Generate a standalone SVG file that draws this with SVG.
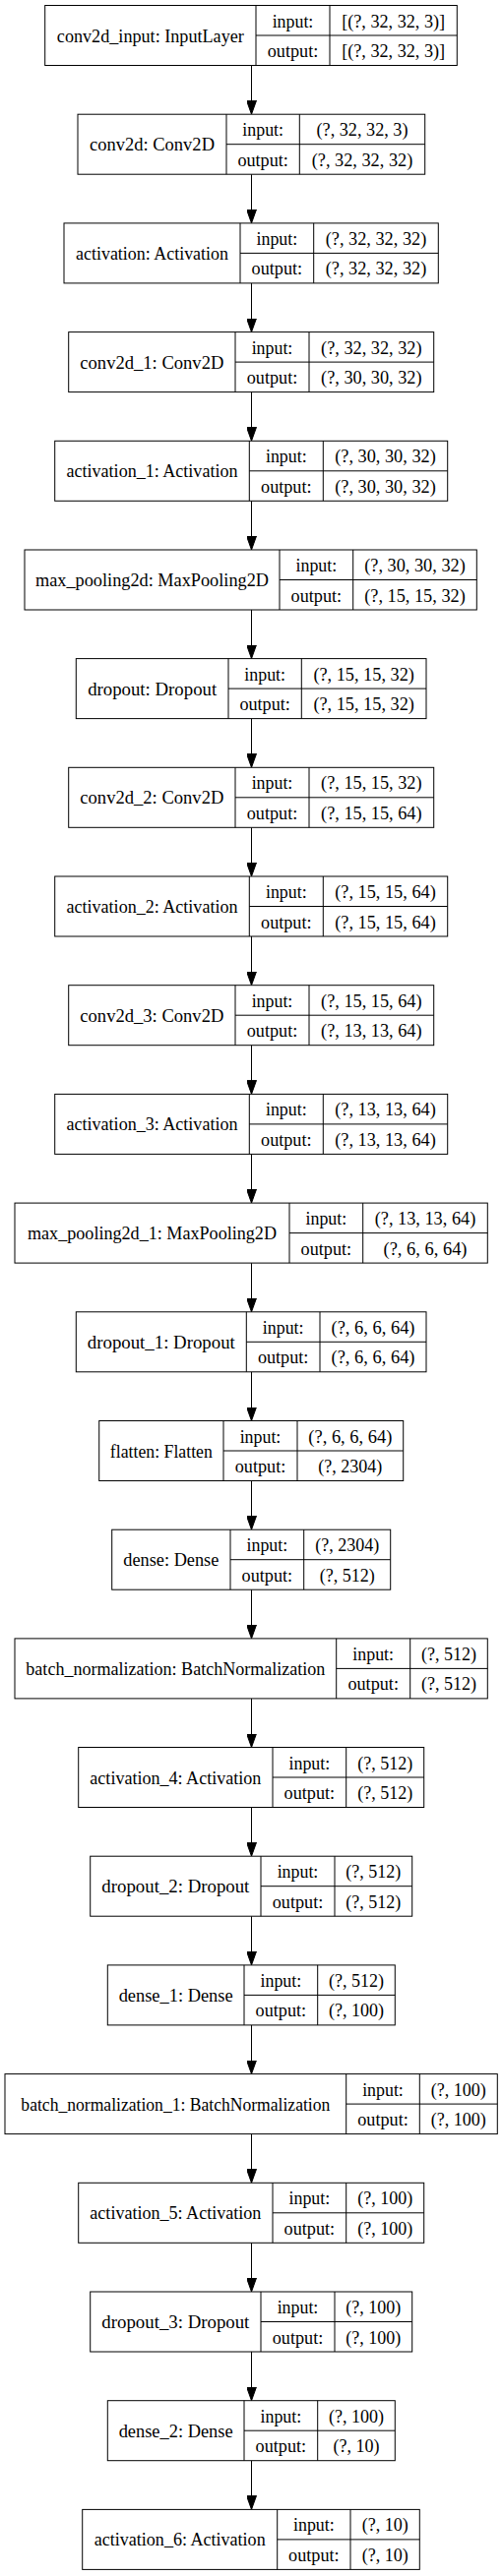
<svg xmlns="http://www.w3.org/2000/svg" width="511" height="2619" viewBox="0 0 511 2619">
<style>
rect.box{fill:#fff;stroke:#000;stroke-width:1}
path.div{fill:none;stroke:#000;stroke-width:1}
line.edge{stroke:#000;stroke-width:1;marker-end:url(#arr)}
</style>
<defs>
<marker id="arr" markerUnits="userSpaceOnUse" viewBox="0 0 14 10" markerWidth="14" markerHeight="10" refX="14" refY="5" orient="auto">
<path d="M0,0 L14,5 L0,10 z" fill="#000" stroke="#000" stroke-width="1"/>
</marker>
</defs>
<rect width="511" height="2619" fill="#fff"/>
<g id="connectors">
<line class="edge" x1="255.5" y1="66.5" x2="255.5" y2="116.2"/>
<line class="edge" x1="255.5" y1="177.2" x2="255.5" y2="226.9"/>
<line class="edge" x1="255.5" y1="287.9" x2="255.5" y2="337.6"/>
<line class="edge" x1="255.5" y1="398.6" x2="255.5" y2="448.3"/>
<line class="edge" x1="255.5" y1="509.3" x2="255.5" y2="559"/>
<line class="edge" x1="255.5" y1="620" x2="255.5" y2="669.6"/>
<line class="edge" x1="255.5" y1="730.6" x2="255.5" y2="780.3"/>
<line class="edge" x1="255.5" y1="841.3" x2="255.5" y2="891"/>
<line class="edge" x1="255.5" y1="952" x2="255.5" y2="1001.7"/>
<line class="edge" x1="255.5" y1="1062.7" x2="255.5" y2="1112.4"/>
<line class="edge" x1="255.5" y1="1173.4" x2="255.5" y2="1223.1"/>
<line class="edge" x1="255.5" y1="1284.1" x2="255.5" y2="1333.8"/>
<line class="edge" x1="255.5" y1="1394.8" x2="255.5" y2="1444.5"/>
<line class="edge" x1="255.5" y1="1505.5" x2="255.5" y2="1555.2"/>
<line class="edge" x1="255.5" y1="1616.2" x2="255.5" y2="1665.9"/>
<line class="edge" x1="255.5" y1="1726.9" x2="255.5" y2="1776.5"/>
<line class="edge" x1="255.5" y1="1837.5" x2="255.5" y2="1887.2"/>
<line class="edge" x1="255.5" y1="1948.2" x2="255.5" y2="1997.9"/>
<line class="edge" x1="255.5" y1="2058.9" x2="255.5" y2="2108.6"/>
<line class="edge" x1="255.5" y1="2169.6" x2="255.5" y2="2219.3"/>
<line class="edge" x1="255.5" y1="2280.3" x2="255.5" y2="2330"/>
<line class="edge" x1="255.5" y1="2391" x2="255.5" y2="2440.7"/>
<line class="edge" x1="255.5" y1="2501.7" x2="255.5" y2="2551.4"/>
</g>
<g id="nodes" font-family="'Liberation Serif', 'Times New Roman', serif" font-size="17.8" text-anchor="middle" fill="#000">
<g id="conv2d_input">
<rect class="box" x="45.7" y="5.5" width="418.6" height="61"/>
<path class="div" d="M260,5.5V66.5M335,5.5V66.5M260,36H464.3"/>
<text x="152.85" y="42.5" textLength="190" lengthAdjust="spacingAndGlyphs">conv2d_input: InputLayer</text>
<text x="297.5" y="27.5" textLength="41.7" lengthAdjust="spacingAndGlyphs">input:</text>
<text x="297.5" y="58" textLength="51.5" lengthAdjust="spacingAndGlyphs">output:</text>
<text x="399.65" y="27.5" textLength="105" lengthAdjust="spacingAndGlyphs">[(?, 32, 32, 3)]</text>
<text x="399.65" y="58" textLength="105" lengthAdjust="spacingAndGlyphs">[(?, 32, 32, 3)]</text>
</g>
<g id="conv2d">
<rect class="box" x="79" y="116.2" width="352.7" height="61"/>
<path class="div" d="M230,116.2V177.2M304.3,116.2V177.2M230,146.7H431.7"/>
<text x="154.5" y="153.2" textLength="127" lengthAdjust="spacingAndGlyphs">conv2d: Conv2D</text>
<text x="267.15" y="138.2" textLength="41.7" lengthAdjust="spacingAndGlyphs">input:</text>
<text x="267.15" y="168.7" textLength="51.5" lengthAdjust="spacingAndGlyphs">output:</text>
<text x="368" y="138.2" textLength="93" lengthAdjust="spacingAndGlyphs">(?, 32, 32, 3)</text>
<text x="368" y="168.7" textLength="102.5" lengthAdjust="spacingAndGlyphs">(?, 32, 32, 32)</text>
</g>
<g id="activation">
<rect class="box" x="65" y="226.9" width="380.3" height="61"/>
<path class="div" d="M244,226.9V287.9M318.7,226.9V287.9M244,257.4H445.3"/>
<text x="154.5" y="263.9" textLength="155" lengthAdjust="spacingAndGlyphs">activation: Activation</text>
<text x="281.35" y="248.9" textLength="41.7" lengthAdjust="spacingAndGlyphs">input:</text>
<text x="281.35" y="279.4" textLength="51.5" lengthAdjust="spacingAndGlyphs">output:</text>
<text x="382" y="248.9" textLength="102.5" lengthAdjust="spacingAndGlyphs">(?, 32, 32, 32)</text>
<text x="382" y="279.4" textLength="102.5" lengthAdjust="spacingAndGlyphs">(?, 32, 32, 32)</text>
</g>
<g id="conv2d_1">
<rect class="box" x="69.7" y="337.6" width="371" height="61"/>
<path class="div" d="M239,337.6V398.6M314,337.6V398.6M239,368.1H440.7"/>
<text x="154.35" y="374.6" textLength="146" lengthAdjust="spacingAndGlyphs">conv2d_1: Conv2D</text>
<text x="276.5" y="359.6" textLength="41.7" lengthAdjust="spacingAndGlyphs">input:</text>
<text x="276.5" y="390.1" textLength="51.5" lengthAdjust="spacingAndGlyphs">output:</text>
<text x="377.35" y="359.6" textLength="102.5" lengthAdjust="spacingAndGlyphs">(?, 32, 32, 32)</text>
<text x="377.35" y="390.1" textLength="102.5" lengthAdjust="spacingAndGlyphs">(?, 30, 30, 32)</text>
</g>
<g id="activation_1">
<rect class="box" x="55.7" y="448.3" width="399" height="61"/>
<path class="div" d="M253.3,448.3V509.3M328.3,448.3V509.3M253.3,478.8H454.7"/>
<text x="154.5" y="485.3" textLength="174" lengthAdjust="spacingAndGlyphs">activation_1: Activation</text>
<text x="290.8" y="470.3" textLength="41.7" lengthAdjust="spacingAndGlyphs">input:</text>
<text x="290.8" y="500.8" textLength="51.5" lengthAdjust="spacingAndGlyphs">output:</text>
<text x="391.5" y="470.3" textLength="102.5" lengthAdjust="spacingAndGlyphs">(?, 30, 30, 32)</text>
<text x="391.5" y="500.8" textLength="102.5" lengthAdjust="spacingAndGlyphs">(?, 30, 30, 32)</text>
</g>
<g id="max_pooling2d">
<rect class="box" x="25" y="559" width="459.3" height="61"/>
<path class="div" d="M284,559V620M358.7,559V620M284,589.5H484.3"/>
<text x="154.5" y="596" textLength="237" lengthAdjust="spacingAndGlyphs">max_pooling2d: MaxPooling2D</text>
<text x="321.35" y="581" textLength="41.7" lengthAdjust="spacingAndGlyphs">input:</text>
<text x="321.35" y="611.5" textLength="51.5" lengthAdjust="spacingAndGlyphs">output:</text>
<text x="421.5" y="581" textLength="102.5" lengthAdjust="spacingAndGlyphs">(?, 30, 30, 32)</text>
<text x="421.5" y="611.5" textLength="102.5" lengthAdjust="spacingAndGlyphs">(?, 15, 15, 32)</text>
</g>
<g id="dropout">
<rect class="box" x="77.3" y="669.6" width="355.7" height="61"/>
<path class="div" d="M232,669.6V730.6M306.3,669.6V730.6M232,700.1H433"/>
<text x="154.65" y="706.6" textLength="131" lengthAdjust="spacingAndGlyphs">dropout: Dropout</text>
<text x="269.15" y="691.6" textLength="41.7" lengthAdjust="spacingAndGlyphs">input:</text>
<text x="269.15" y="722.1" textLength="51.5" lengthAdjust="spacingAndGlyphs">output:</text>
<text x="369.65" y="691.6" textLength="102.5" lengthAdjust="spacingAndGlyphs">(?, 15, 15, 32)</text>
<text x="369.65" y="722.1" textLength="102.5" lengthAdjust="spacingAndGlyphs">(?, 15, 15, 32)</text>
</g>
<g id="conv2d_2">
<rect class="box" x="69.7" y="780.3" width="371" height="61"/>
<path class="div" d="M239,780.3V841.3M314,780.3V841.3M239,810.8H440.7"/>
<text x="154.35" y="817.3" textLength="146" lengthAdjust="spacingAndGlyphs">conv2d_2: Conv2D</text>
<text x="276.5" y="802.3" textLength="41.7" lengthAdjust="spacingAndGlyphs">input:</text>
<text x="276.5" y="832.8" textLength="51.5" lengthAdjust="spacingAndGlyphs">output:</text>
<text x="377.35" y="802.3" textLength="102.5" lengthAdjust="spacingAndGlyphs">(?, 15, 15, 32)</text>
<text x="377.35" y="832.8" textLength="102.5" lengthAdjust="spacingAndGlyphs">(?, 15, 15, 64)</text>
</g>
<g id="activation_2">
<rect class="box" x="55.7" y="891" width="399" height="61"/>
<path class="div" d="M253.3,891V952M328.3,891V952M253.3,921.5H454.7"/>
<text x="154.5" y="928" textLength="174" lengthAdjust="spacingAndGlyphs">activation_2: Activation</text>
<text x="290.8" y="913" textLength="41.7" lengthAdjust="spacingAndGlyphs">input:</text>
<text x="290.8" y="943.5" textLength="51.5" lengthAdjust="spacingAndGlyphs">output:</text>
<text x="391.5" y="913" textLength="102.5" lengthAdjust="spacingAndGlyphs">(?, 15, 15, 64)</text>
<text x="391.5" y="943.5" textLength="102.5" lengthAdjust="spacingAndGlyphs">(?, 15, 15, 64)</text>
</g>
<g id="conv2d_3">
<rect class="box" x="69.7" y="1001.7" width="371" height="61"/>
<path class="div" d="M239,1001.7V1062.7M314,1001.7V1062.7M239,1032.2H440.7"/>
<text x="154.35" y="1038.7" textLength="146" lengthAdjust="spacingAndGlyphs">conv2d_3: Conv2D</text>
<text x="276.5" y="1023.7" textLength="41.7" lengthAdjust="spacingAndGlyphs">input:</text>
<text x="276.5" y="1054.2" textLength="51.5" lengthAdjust="spacingAndGlyphs">output:</text>
<text x="377.35" y="1023.7" textLength="102.5" lengthAdjust="spacingAndGlyphs">(?, 15, 15, 64)</text>
<text x="377.35" y="1054.2" textLength="102.5" lengthAdjust="spacingAndGlyphs">(?, 13, 13, 64)</text>
</g>
<g id="activation_3">
<rect class="box" x="55.7" y="1112.4" width="399" height="61"/>
<path class="div" d="M253.3,1112.4V1173.4M328.3,1112.4V1173.4M253.3,1142.9H454.7"/>
<text x="154.5" y="1149.4" textLength="174" lengthAdjust="spacingAndGlyphs">activation_3: Activation</text>
<text x="290.8" y="1134.4" textLength="41.7" lengthAdjust="spacingAndGlyphs">input:</text>
<text x="290.8" y="1164.9" textLength="51.5" lengthAdjust="spacingAndGlyphs">output:</text>
<text x="391.5" y="1134.4" textLength="102.5" lengthAdjust="spacingAndGlyphs">(?, 13, 13, 64)</text>
<text x="391.5" y="1164.9" textLength="102.5" lengthAdjust="spacingAndGlyphs">(?, 13, 13, 64)</text>
</g>
<g id="max_pooling2d_1">
<rect class="box" x="15" y="1223.1" width="480.3" height="61"/>
<path class="div" d="M294,1223.1V1284.1M368.7,1223.1V1284.1M294,1253.6H495.3"/>
<text x="154.5" y="1260.1" textLength="253" lengthAdjust="spacingAndGlyphs">max_pooling2d_1: MaxPooling2D</text>
<text x="331.35" y="1245.1" textLength="41.7" lengthAdjust="spacingAndGlyphs">input:</text>
<text x="331.35" y="1275.6" textLength="51.5" lengthAdjust="spacingAndGlyphs">output:</text>
<text x="432" y="1245.1" textLength="102.5" lengthAdjust="spacingAndGlyphs">(?, 13, 13, 64)</text>
<text x="432" y="1275.6" textLength="85" lengthAdjust="spacingAndGlyphs">(?, 6, 6, 64)</text>
</g>
<g id="dropout_1">
<rect class="box" x="77.3" y="1333.8" width="355.7" height="61"/>
<path class="div" d="M250.3,1333.8V1394.8M325,1333.8V1394.8M250.3,1364.3H433"/>
<text x="163.8" y="1370.8" textLength="150" lengthAdjust="spacingAndGlyphs">dropout_1: Dropout</text>
<text x="287.65" y="1355.8" textLength="41.7" lengthAdjust="spacingAndGlyphs">input:</text>
<text x="287.65" y="1386.3" textLength="51.5" lengthAdjust="spacingAndGlyphs">output:</text>
<text x="379" y="1355.8" textLength="85" lengthAdjust="spacingAndGlyphs">(?, 6, 6, 64)</text>
<text x="379" y="1386.3" textLength="85" lengthAdjust="spacingAndGlyphs">(?, 6, 6, 64)</text>
</g>
<g id="flatten">
<rect class="box" x="100.7" y="1444.5" width="309" height="61"/>
<path class="div" d="M227,1444.5V1505.5M302,1444.5V1505.5M227,1475H409.7"/>
<text x="163.85" y="1481.5" textLength="104" lengthAdjust="spacingAndGlyphs">flatten: Flatten</text>
<text x="264.5" y="1466.5" textLength="41.7" lengthAdjust="spacingAndGlyphs">input:</text>
<text x="264.5" y="1497" textLength="51.5" lengthAdjust="spacingAndGlyphs">output:</text>
<text x="355.85" y="1466.5" textLength="85" lengthAdjust="spacingAndGlyphs">(?, 6, 6, 64)</text>
<text x="355.85" y="1497" textLength="65" lengthAdjust="spacingAndGlyphs">(?, 2304)</text>
</g>
<g id="dense">
<rect class="box" x="113.7" y="1555.2" width="283" height="61"/>
<path class="div" d="M234,1555.2V1616.2M308.7,1555.2V1616.2M234,1585.7H396.7"/>
<text x="173.85" y="1592.2" textLength="97" lengthAdjust="spacingAndGlyphs">dense: Dense</text>
<text x="271.35" y="1577.2" textLength="41.7" lengthAdjust="spacingAndGlyphs">input:</text>
<text x="271.35" y="1607.7" textLength="51.5" lengthAdjust="spacingAndGlyphs">output:</text>
<text x="352.7" y="1577.2" textLength="65" lengthAdjust="spacingAndGlyphs">(?, 2304)</text>
<text x="352.7" y="1607.7" textLength="56" lengthAdjust="spacingAndGlyphs">(?, 512)</text>
</g>
<g id="batch_normalization">
<rect class="box" x="15" y="1665.9" width="480.3" height="61"/>
<path class="div" d="M341.7,1665.9V1726.9M416.7,1665.9V1726.9M341.7,1696.4H495.3"/>
<text x="178.35" y="1702.9" textLength="304" lengthAdjust="spacingAndGlyphs">batch_normalization: BatchNormalization</text>
<text x="379.2" y="1687.9" textLength="41.7" lengthAdjust="spacingAndGlyphs">input:</text>
<text x="379.2" y="1718.4" textLength="51.5" lengthAdjust="spacingAndGlyphs">output:</text>
<text x="456" y="1687.9" textLength="56" lengthAdjust="spacingAndGlyphs">(?, 512)</text>
<text x="456" y="1718.4" textLength="56" lengthAdjust="spacingAndGlyphs">(?, 512)</text>
</g>
<g id="activation_4">
<rect class="box" x="79.7" y="1776.5" width="351" height="61"/>
<path class="div" d="M277,1776.5V1837.5M351.7,1776.5V1837.5M277,1807H430.7"/>
<text x="178.35" y="1813.5" textLength="174" lengthAdjust="spacingAndGlyphs">activation_4: Activation</text>
<text x="314.35" y="1798.5" textLength="41.7" lengthAdjust="spacingAndGlyphs">input:</text>
<text x="314.35" y="1829" textLength="51.5" lengthAdjust="spacingAndGlyphs">output:</text>
<text x="391.2" y="1798.5" textLength="56" lengthAdjust="spacingAndGlyphs">(?, 512)</text>
<text x="391.2" y="1829" textLength="56" lengthAdjust="spacingAndGlyphs">(?, 512)</text>
</g>
<g id="dropout_2">
<rect class="box" x="91.7" y="1887.2" width="327" height="61"/>
<path class="div" d="M265,1887.2V1948.2M340,1887.2V1948.2M265,1917.7H418.7"/>
<text x="178.35" y="1924.2" textLength="150" lengthAdjust="spacingAndGlyphs">dropout_2: Dropout</text>
<text x="302.5" y="1909.2" textLength="41.7" lengthAdjust="spacingAndGlyphs">input:</text>
<text x="302.5" y="1939.7" textLength="51.5" lengthAdjust="spacingAndGlyphs">output:</text>
<text x="379.35" y="1909.2" textLength="56" lengthAdjust="spacingAndGlyphs">(?, 512)</text>
<text x="379.35" y="1939.7" textLength="56" lengthAdjust="spacingAndGlyphs">(?, 512)</text>
</g>
<g id="dense_1">
<rect class="box" x="109.3" y="1997.9" width="292" height="61"/>
<path class="div" d="M248,1997.9V2058.9M322.7,1997.9V2058.9M248,2028.4H401.3"/>
<text x="178.65" y="2034.9" textLength="116" lengthAdjust="spacingAndGlyphs">dense_1: Dense</text>
<text x="285.35" y="2019.9" textLength="41.7" lengthAdjust="spacingAndGlyphs">input:</text>
<text x="285.35" y="2050.4" textLength="51.5" lengthAdjust="spacingAndGlyphs">output:</text>
<text x="362" y="2019.9" textLength="56" lengthAdjust="spacingAndGlyphs">(?, 512)</text>
<text x="362" y="2050.4" textLength="56" lengthAdjust="spacingAndGlyphs">(?, 100)</text>
</g>
<g id="batch_normalization_1">
<rect class="box" x="5" y="2108.6" width="500.3" height="61"/>
<path class="div" d="M351.7,2108.6V2169.6M426.3,2108.6V2169.6M351.7,2139.1H505.3"/>
<text x="178.35" y="2145.6" textLength="314" lengthAdjust="spacingAndGlyphs">batch_normalization_1: BatchNormalization</text>
<text x="389" y="2130.6" textLength="41.7" lengthAdjust="spacingAndGlyphs">input:</text>
<text x="389" y="2161.1" textLength="51.5" lengthAdjust="spacingAndGlyphs">output:</text>
<text x="465.8" y="2130.6" textLength="56" lengthAdjust="spacingAndGlyphs">(?, 100)</text>
<text x="465.8" y="2161.1" textLength="56" lengthAdjust="spacingAndGlyphs">(?, 100)</text>
</g>
<g id="activation_5">
<rect class="box" x="79.7" y="2219.3" width="351" height="61"/>
<path class="div" d="M277,2219.3V2280.3M351.7,2219.3V2280.3M277,2249.8H430.7"/>
<text x="178.35" y="2256.3" textLength="174" lengthAdjust="spacingAndGlyphs">activation_5: Activation</text>
<text x="314.35" y="2241.3" textLength="41.7" lengthAdjust="spacingAndGlyphs">input:</text>
<text x="314.35" y="2271.8" textLength="51.5" lengthAdjust="spacingAndGlyphs">output:</text>
<text x="391.2" y="2241.3" textLength="56" lengthAdjust="spacingAndGlyphs">(?, 100)</text>
<text x="391.2" y="2271.8" textLength="56" lengthAdjust="spacingAndGlyphs">(?, 100)</text>
</g>
<g id="dropout_3">
<rect class="box" x="91.7" y="2330" width="327" height="61"/>
<path class="div" d="M265,2330V2391M340,2330V2391M265,2360.5H418.7"/>
<text x="178.35" y="2367" textLength="150" lengthAdjust="spacingAndGlyphs">dropout_3: Dropout</text>
<text x="302.5" y="2352" textLength="41.7" lengthAdjust="spacingAndGlyphs">input:</text>
<text x="302.5" y="2382.5" textLength="51.5" lengthAdjust="spacingAndGlyphs">output:</text>
<text x="379.35" y="2352" textLength="56" lengthAdjust="spacingAndGlyphs">(?, 100)</text>
<text x="379.35" y="2382.5" textLength="56" lengthAdjust="spacingAndGlyphs">(?, 100)</text>
</g>
<g id="dense_2">
<rect class="box" x="109.3" y="2440.7" width="292" height="61"/>
<path class="div" d="M248,2440.7V2501.7M322.7,2440.7V2501.7M248,2471.2H401.3"/>
<text x="178.65" y="2477.7" textLength="116" lengthAdjust="spacingAndGlyphs">dense_2: Dense</text>
<text x="285.35" y="2462.7" textLength="41.7" lengthAdjust="spacingAndGlyphs">input:</text>
<text x="285.35" y="2493.2" textLength="51.5" lengthAdjust="spacingAndGlyphs">output:</text>
<text x="362" y="2462.7" textLength="56" lengthAdjust="spacingAndGlyphs">(?, 100)</text>
<text x="362" y="2493.2" textLength="47" lengthAdjust="spacingAndGlyphs">(?, 10)</text>
</g>
<g id="activation_6">
<rect class="box" x="83.7" y="2551.4" width="342.6" height="61"/>
<path class="div" d="M281.7,2551.4V2612.4M356,2551.4V2612.4M281.7,2581.9H426.3"/>
<text x="182.7" y="2588.4" textLength="174" lengthAdjust="spacingAndGlyphs">activation_6: Activation</text>
<text x="318.85" y="2573.4" textLength="41.7" lengthAdjust="spacingAndGlyphs">input:</text>
<text x="318.85" y="2603.9" textLength="51.5" lengthAdjust="spacingAndGlyphs">output:</text>
<text x="391.15" y="2573.4" textLength="47" lengthAdjust="spacingAndGlyphs">(?, 10)</text>
<text x="391.15" y="2603.9" textLength="47" lengthAdjust="spacingAndGlyphs">(?, 10)</text>
</g>
</g>
</svg>
